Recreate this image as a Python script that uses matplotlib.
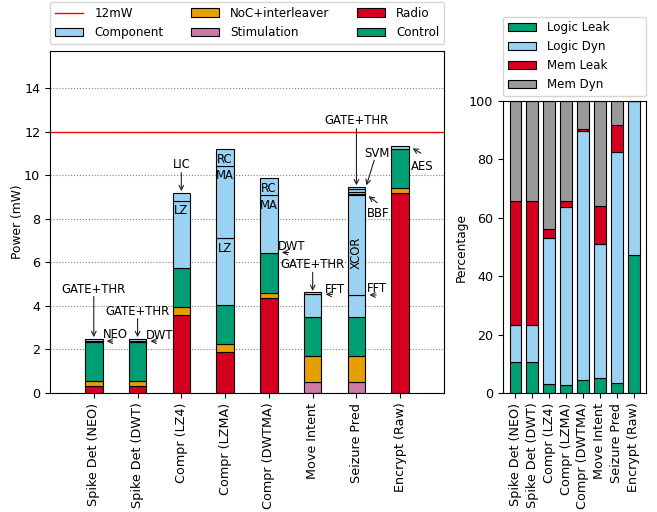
import matplotlib
matplotlib.use('Agg')
import matplotlib.pyplot as plt
import numpy as np
from matplotlib.patches import Patch
from matplotlib.lines import Line2D

categories = ['Spike Det (NEO)', 'Spike Det (DWT)', 'Compr (LZ4)', 'Compr (LZMA)',
              'Compr (DWTMA)', 'Move Intent', 'Seizure Pred', 'Encrypt (Raw)']

# power breakdown (mW)
radio = [0.32, 0.32, 3.60, 1.87, 4.37, 0.00, 0.00, 9.16]
stim = [0.00, 0.00, 0.00, 0.00, 0.00, 0.49, 0.49, 0.00]
noc = [0.24, 0.24, 0.36, 0.36, 0.22, 1.19, 1.19, 0.23]
control = [1.78, 1.78, 1.79, 1.80, 1.82, 1.79, 1.79, 1.79]

# processing components stacked on top of each bar
comp_names = [['NEO', 'GATE+THR'],
              ['DWT', 'GATE+THR'],
              ['LZ', 'LIC'],
              ['LZ', 'MA', 'RC'],
              ['DWT', 'MA', 'RC'],
              ['FFT', 'GATE+THR'],
              ['FFT', 'XCOR', 'BBF', '', 'SVM', 'GATE+THR'],
              ['AES']]
comp_values = [[0.04, 0.12],
               [0.04, 0.12],
               [3.07, 0.38],
               [3.07, 3.33, 0.77],
               [0.04, 2.62, 0.78],
               [1.06, 0.09],
               [1.03, 4.58, 0.07, 0.09, 0.11, 0.12],
               [0.15]]

# percentage breakdown
logic_leak = [10.5, 10.5, 3.1, 2.9, 4.6, 5.1, 3.5, 47.3]
logic_dyn = [12.8, 12.8, 50.0, 60.8, 85.1, 45.9, 79.2, 52.7]
mem_leak = [42.4, 42.4, 2.9, 2.0, 0.6, 13.1, 9.1, 0.0]
mem_dyn = [34.3, 34.3, 44.0, 34.3, 9.7, 35.9, 8.2, 0.0]

C_RADIO = '#d5001f'
C_CTRL = '#009e73'
C_NOC = '#e69f00'
C_STIM = '#cc79a7'
C_COMP = '#9ad2f2'
C_GRAY = '#999999'

# label placement: 'in' = inside, 'rot' = inside rotated,
# ('v'|'s', tail offset px, text offset px, ha)
label_style = {
    (0, 'GATE+THR'): ('v', (0, 42), (0, 49), 'center'),
    (0, 'NEO'): ('s', (10, 0), (0, 7), 'left'),
    (1, 'GATE+THR'): ('v', (0, 20), (0, 27), 'center'),
    (1, 'DWT'): ('s', (10, 0), (0, 6), 'left'),
    (2, 'LZ'): 'in',
    (2, 'LIC'): ('v', (0, 20), (0, 28), 'center'),
    (3, 'LZ'): 'in', (3, 'MA'): 'in', (3, 'RC'): 'in',
    (4, 'DWT'): ('s', (11, 0), (0, 6), 'left'),
    (4, 'MA'): 'in', (4, 'RC'): 'in',
    (5, 'FFT'): ('s', (11, 0), (3, 5), 'left'),
    (5, 'GATE+THR'): ('v', (0, 20), (0, 28), 'center'),
    (6, 'FFT'): ('s', (11, 0), (2, 6), 'left'),
    (6, 'XCOR'): 'rot',
    (6, 'BBF'): ('s', (12, -9), (2, -20), 'left'),
    (6, 'SVM'): ('s', (9, 29), (12, 36), 'center'),
    (6, 'GATE+THR'): ('v', (0, 58), (0, 66), 'center'),
    (7, 'AES'): ('s', (12, -7), (2, -20), 'left'),
}

plt.rcParams['font.size'] = 8.4
plt.rcParams['xtick.labelsize'] = 9.2
plt.rcParams['ytick.labelsize'] = 9.2
plt.rcParams['axes.labelsize'] = 8.8
plt.rcParams['legend.fontsize'] = 8.6
plt.rcParams['legend.labelspacing'] = 0.5
plt.rcParams['legend.handlelength'] = 2.4
plt.rcParams['legend.handletextpad'] = 0.9

fig = plt.figure(figsize=(6.57, 5.12), dpi=100)
ax = fig.add_axes([0.0761, 0.2324, 0.5997, 0.668])
ax2 = fig.add_axes([0.7656, 0.2324, 0.2177, 0.5703])

x = np.arange(len(categories))
w = 0.4
ek = dict(edgecolor='black', linewidth=0.8)

bottom = np.zeros(len(categories))
for vals, col in [(radio, C_RADIO), (stim, C_STIM), (noc, C_NOC), (control, C_CTRL)]:
    vals = np.array(vals)
    mask = vals > 0
    ax.bar(x[mask], vals[mask], w, bottom=bottom[mask], color=col, **ek)
    bottom += vals

for i in range(len(categories)):
    b = bottom[i]
    for name, v in zip(comp_names[i], comp_values[i]):
        ax.bar(x[i], v, w, bottom=b, color=C_COMP, **ek)
        top = b + v
        st = label_style.get((i, name))
        if st == 'in':
            ax.annotate(name, (x[i], top), xytext=(0, -10), textcoords='offset pixels',
                        ha='center', va='center')
        elif st == 'rot':
            ax.annotate(name, (x[i], b + v / 2), xytext=(0, -8), textcoords='offset pixels',
                        ha='center', va='center', rotation=90)
        elif st is not None:
            kind, tail, toff, ha = st
            tip = (x[i], top) if kind == 'v' else (x[i] + w / 2, top)
            shr = 1 if kind == 'v' else 3
            ax.annotate('', tip, xytext=tail, textcoords='offset pixels',
                        arrowprops=dict(arrowstyle='->', lw=0.8, color='#222222',
                                        shrinkA=0, shrinkB=shr))
            ax.annotate(name, tip, xytext=toff, textcoords='offset pixels',
                        ha=ha, va='center')
        b = top

ax.axhline(12, color='red', lw=1)
ax.set_ylim(0, 15.7)
ax.set_xlim(-1, 8)
ax.set_yticks(np.arange(0, 15, 2))
ax.set_xticks(x)
ax.set_xticklabels(categories, rotation=90)
ax.set_ylabel('Power (mW)', labelpad=0)
ax.yaxis.grid(True, linestyle=':', color='gray', lw=0.8)
ax.set_axisbelow(True)

handles = [Line2D([], [], color='red', lw=1),
           Patch(facecolor=C_COMP, **ek), Patch(facecolor=C_NOC, **ek),
           Patch(facecolor=C_STIM, **ek), Patch(facecolor=C_RADIO, **ek),
           Patch(facecolor=C_CTRL, **ek)]
labels = ['12mW', 'Component', 'NoC+interleaver', 'Stimulation', 'Radio', 'Control']
ax.legend(handles, labels, ncol=3, loc='lower left', bbox_to_anchor=(0, 1.02, 1, 0),
          mode='expand', borderaxespad=0, labelspacing=0.55)

# percentage chart
w2 = 0.7
pb = np.zeros(len(categories))
for vals, col, name in [(logic_leak, C_CTRL, 'Logic Leak'), (logic_dyn, C_COMP, 'Logic Dyn'),
                        (mem_leak, C_RADIO, 'Mem Leak'), (mem_dyn, C_GRAY, 'Mem Dyn')]:
    ax2.bar(x, vals, w2, bottom=pb, color=col, label=name, **ek)
    pb += np.array(vals)
ax2.set_ylim(0, 100)
ax2.set_xticks(x)
ax2.set_xticklabels(categories, rotation=90)
ax2.set_ylabel('Percentage', labelpad=1)
ax2.legend(ncol=1, loc='lower left', bbox_to_anchor=(0, 1.017, 1, 0),
           mode='expand', borderaxespad=0)

fig.savefig('out.png', dpi=100)
